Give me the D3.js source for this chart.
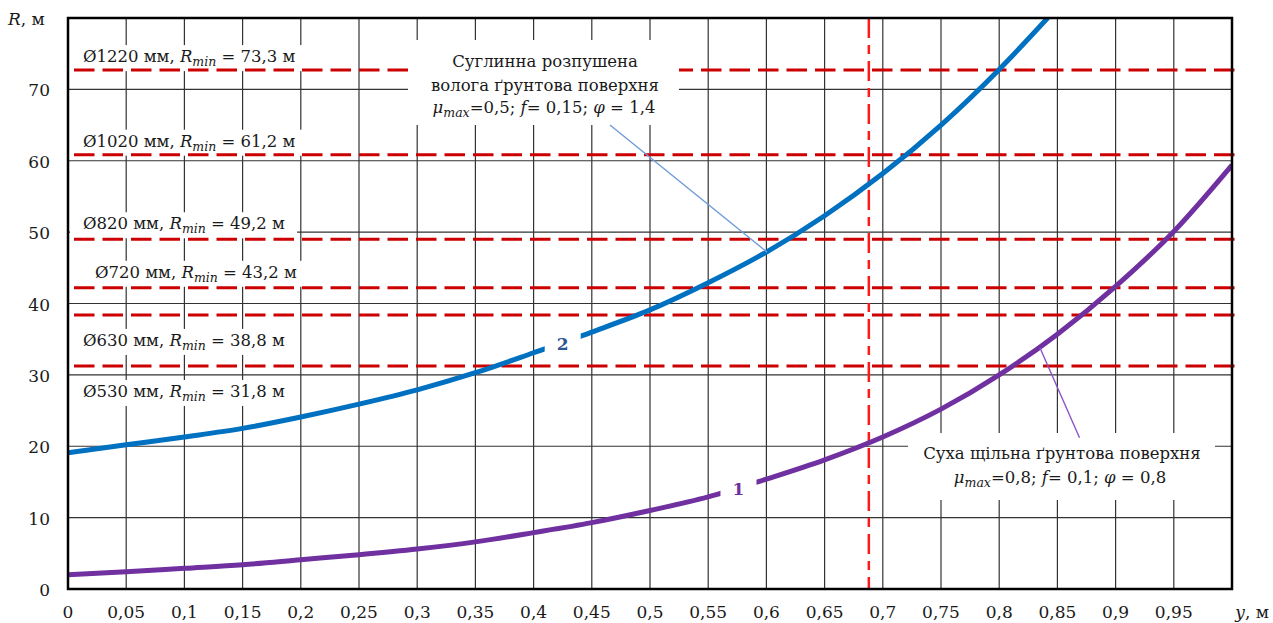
<!DOCTYPE html>
<html>
<head>
<meta charset="utf-8">
<script src="https://cdn.jsdelivr.net/npm/d3@7"></script>
<style>
  body { margin: 0; background: #fff; }
  svg text { font-family: "DejaVu Serif", serif; font-size: 17px; fill: #1a1a1a; }
  svg .note text { font-size: 16.5px; }
</style>
</head>
<body>
<div id="chart"></div>
<script>
const width = 1273;
const height = 623;
const marginTop = 18;
const marginRight = 41;
const marginBottom = 34;
const marginLeft = 68;

// y, м
const yPos = [0, 0.05, 0.1, 0.15, 0.2, 0.25, 0.3, 0.35, 0.4, 0.45, 0.5,
    0.55, 0.6, 0.65, 0.7, 0.75, 0.8, 0.85, 0.9, 0.95, 1.0];
// curve 1: суха щільна ґрунтова поверхня
const rCurve1 = [2.0, 2.4, 2.9, 3.4, 4.1, 4.8, 5.6, 6.6, 7.9, 9.3, 11.0,
    12.9, 15.4, 18.1, 21.3, 25.2, 30.0, 35.7, 42.4, 50.1, 59.4];
// curve 2: суглинна розпушена (goes off the top after 0.85)
const rCurve2 = [19.1, 20.2, 21.3, 22.5, 24.1, 25.9, 27.9, 30.3, 33.1, 36.0, 39.1,
    42.9, 47.2, 52.3, 58.2, 65.0, 72.8, 81.5];

const pipeLabels = ["Ø1220 мм", "Ø1020 мм", "Ø820 мм", "Ø720 мм", "Ø630 мм", "Ø530 мм"];
const rMinText = ["73,3", "61,2", "49,2", "43,2", "38,8", "31,8"];
const rMinLine = [72.7, 60.85, 49.0, 42.2, 38.4, 31.25];
const yMark = 0.688;

const xTicks = [0, 0.05, 0.1, 0.15, 0.2, 0.25, 0.3, 0.35, 0.4, 0.45, 0.5,
    0.55, 0.6, 0.65, 0.7, 0.75, 0.8, 0.85, 0.9, 0.95];
const xTickLabels = ["0", "0,05", "0,1", "0,15", "0,2", "0,25", "0,3", "0,35", "0,4", "0,45", "0,5",
    "0,55", "0,6", "0,65", "0,7", "0,75", "0,8", "0,85", "0,9", "0,95"];
const yTicks = [0, 10, 20, 30, 40, 50, 60, 70];
const yTickLabels = ["0", "10", "20", "30", "40", "50", "60", "70"];

const svg = d3.select("#chart")
    .append("svg")
    .attr("width", width)
    .attr("height", height);

const x = d3.scaleLinear()
    .domain([0, 1])
    .range([marginLeft, width - marginRight]);

const y = d3.scaleLinear()
    .domain([0, 80])
    .range([height - marginBottom, marginTop]);

svg.append("clipPath").attr("id", "plot")
    .append("rect")
    .attr("x", x(0)).attr("y", y(80))
    .attr("width", x(1) - x(0)).attr("height", y(0) - y(80));

// grid
svg.append("g")
    .selectAll("line")
    .data(xTicks.slice(1))
    .join("line")
    .attr("x1", d => x(d)).attr("x2", d => x(d))
    .attr("y1", y(0)).attr("y2", y(80))
    .attr("stroke", "#333").attr("stroke-width", 1.2);

svg.append("g")
    .selectAll("line")
    .data(yTicks.slice(1))
    .join("line")
    .attr("x1", x(0)).attr("x2", x(1))
    .attr("y1", d => y(d)).attr("y2", d => y(d))
    .attr("stroke", "#333").attr("stroke-width", 1.2);

// tick labels
svg.append("g")
    .selectAll("text")
    .data(yTicks)
    .join("text")
    .attr("x", 50)
    .attr("y", d => y(d) + 7)
    .attr("text-anchor", "end")
    .text((d, i) => yTickLabels[i]);

svg.append("g")
    .selectAll("text")
    .data(xTicks)
    .join("text")
    .attr("x", d => x(d))
    .attr("y", 618)
    .attr("text-anchor", "middle")
    .text((d, i) => xTickLabels[i]);

const rTitle = svg.append("text").attr("x", 8).attr("y", 25);
rTitle.append("tspan").attr("font-style", "italic").text("R");
rTitle.append("tspan").text(", м");

const yTitle = svg.append("text").attr("x", 1269).attr("y", 618).attr("text-anchor", "end");
yTitle.append("tspan").attr("font-style", "italic").text("y");
yTitle.append("tspan").text(", м");

// white box behind a text element
function boxBehind(g, textNode, padX, padY, minX) {
    const b = textNode.getBBox();
    const x0 = minX;
    g.insert("rect", ":first-child")
        .attr("x", x0).attr("y", b.y - padY)
        .attr("width", b.x + b.width + padX - x0)
        .attr("height", b.height + padY * 2)
        .attr("fill", "#fff");
}

const labelDy = [-8, -8, -10, -10, 31, 31];
const labelX = [83, 83, 83, 95, 83, 83];

pipeLabels.forEach((p, i) => {
    const g = svg.append("g").attr("class", "note");
    const t = g.append("text")
        .attr("x", labelX[i])
        .attr("y", y(rMinLine[i]) + labelDy[i]);
    t.append("tspan").text(p + ", ");
    t.append("tspan").attr("font-style", "italic").text("R");
    t.append("tspan").attr("font-style", "italic").style("font-size", "12.5px").attr("dy", 4).text("min");
    t.append("tspan").attr("dy", -4).text(" = " + rMinText[i] + " м");
    boxBehind(g, t.node(), 12, 2, x(0) + 2);
});

// red horizontal lines for pipe diameters
svg.append("g")
    .selectAll("line")
    .data(rMinLine)
    .join("line")
    .attr("x1", x(0) + 6).attr("x2", x(1) + 6)
    .attr("y1", d => y(d)).attr("y2", d => y(d))
    .attr("stroke", "#cc0000")
    .attr("stroke-width", 3)
    .attr("stroke-dasharray", "20.5,8");

svg.append("line")
    .attr("x1", x(yMark)).attr("x2", x(yMark))
    .attr("y1", y(80)).attr("y2", y(0))
    .attr("stroke", "#ff1a1a")
    .attr("stroke-width", 2.5)
    .attr("stroke-dasharray", "20,7,9,7");

// annotation boxes
function muLine(t, mu, f, phi) {
    t.append("tspan").attr("font-style", "italic").text("μ");
    t.append("tspan").attr("font-style", "italic").style("font-size", "12.5px").attr("dy", 4).text("max");
    t.append("tspan").attr("dy", -4).text("=" + mu + "; ");
    t.append("tspan").attr("font-style", "italic").text("f");
    t.append("tspan").text("= " + f + "; ");
    t.append("tspan").attr("font-style", "italic").text("φ");
    t.append("tspan").text(" = " + phi);
}

const note2 = svg.append("g").attr("class", "note");
note2.append("rect")
    .attr("x", 408).attr("y", 40).attr("width", 271).attr("height", 85)
    .attr("fill", "#fff");
note2.append("text").attr("x", 545).attr("y", 67).attr("text-anchor", "middle")
    .text("Суглинна розпушена");
note2.append("text").attr("x", 545).attr("y", 91).attr("text-anchor", "middle")
    .text("волога ґрунтова поверхня");
muLine(note2.append("text").attr("x", 544).attr("y", 113).attr("text-anchor", "middle"),
    "0,5", "0,15", "1,4");

const note1 = svg.append("g").attr("class", "note");
note1.append("rect")
    .attr("x", 908).attr("y", 433).attr("width", 307).attr("height", 67)
    .attr("fill", "#fff");
note1.append("text").attr("x", 1062).attr("y", 459).attr("text-anchor", "middle")
    .text("Суха щільна ґрунтова поверхня");
muLine(note1.append("text").attr("x", 1060).attr("y", 483).attr("text-anchor", "middle"),
    "0,8", "0,1", "0,8");

// curves
const line = d3.line()
    .x((d, i) => x(yPos[i]))
    .y(d => y(d))
    .curve(d3.curveMonotoneX);

const curves = svg.append("g").attr("clip-path", "url(#plot)");
curves.append("path")
    .attr("d", line(rCurve2))
    .attr("fill", "none")
    .attr("stroke", "#0070c0")
    .attr("stroke-width", 5);
curves.append("path")
    .attr("d", line(rCurve1))
    .attr("fill", "none")
    .attr("stroke", "#7030a0")
    .attr("stroke-width", 5);

// curve numbers
const curveLabels = [
    { text: "2", at: [0.425, 34.5], color: "#2f5597" },
    { text: "1", at: [0.576, 14.1], color: "#7030a0" }
];
curveLabels.forEach(c => {
    const cx = x(c.at[0]), cy = y(c.at[1]);
    svg.append("rect")
        .attr("x", cx - 18).attr("y", cy - 15)
        .attr("width", 36).attr("height", 30)
        .attr("fill", "#fff");
    svg.append("text")
        .attr("x", cx).attr("y", cy + 7)
        .attr("text-anchor", "middle")
        .attr("font-weight", "bold")
        .style("fill", c.color)
        .text(c.text);
});

// leader lines
svg.append("line")
    .attr("x1", x(0.4656)).attr("y1", y(65.0))
    .attr("x2", x(0.6005)).attr("y2", y(47.2))
    .attr("stroke", "#6f9bd8").attr("stroke-width", 1.4);
svg.append("line")
    .attr("x1", x(0.835)).attr("y1", y(33.8))
    .attr("x2", x(0.869)).attr("y2", y(21.2))
    .attr("stroke", "#8a55c4").attr("stroke-width", 1.4);

// frame
svg.append("rect")
    .attr("x", x(0)).attr("y", y(80))
    .attr("width", x(1) - x(0)).attr("height", y(0) - y(80))
    .attr("fill", "none")
    .attr("stroke", "#000")
    .attr("stroke-width", 2.5);
</script>
</body>
</html>
